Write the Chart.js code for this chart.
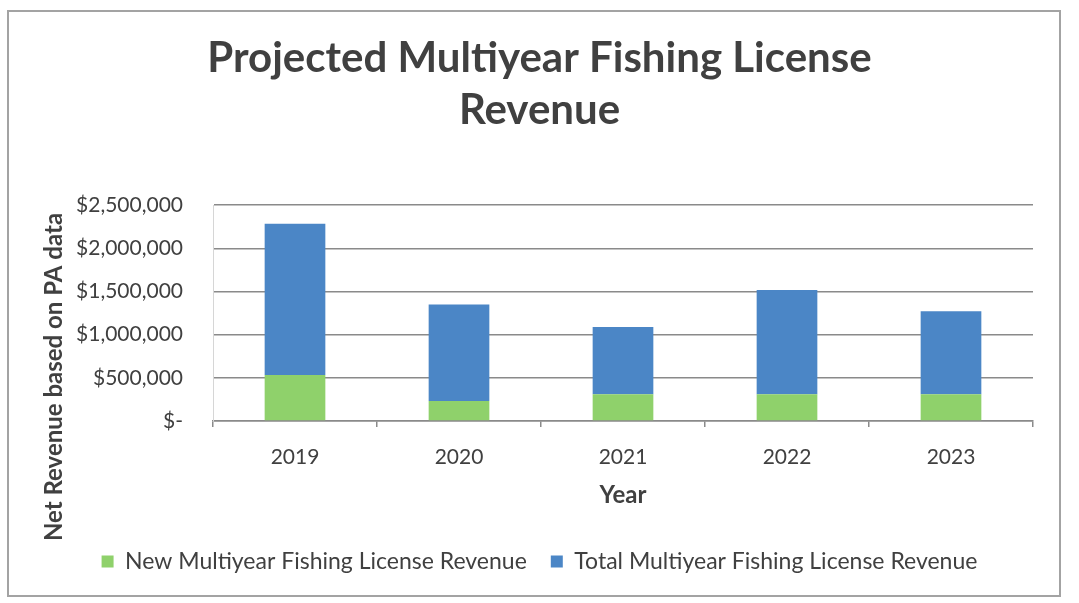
<!DOCTYPE html>
<html>
<head>
<meta charset="utf-8">
<script src="https://cdn.jsdelivr.net/npm/chart.js@4.4.1/dist/chart.umd.min.js"></script>
<style>
  html, body { margin: 0; padding: 0; background: #fff; }
  #wrap { position: relative; width: 1079px; height: 603px; }
  #frame { position: absolute; left: 7px; top: 10px; width: 1054px; height: 587px; border: 2px solid #a3a3a3; box-sizing: border-box; pointer-events: none; }
</style>
</head>
<body>
<div id="wrap">
  <canvas id="grafico" width="1079" height="603"></canvas>
  <div id="frame"></div>
</div>
<script>
// datos
const years = ["2019", "2020", "2021", "2022", "2023"];
const newRevenue = [533000, 233000, 311000, 311000, 311000];
const totalRevenue = [1751000, 1117000, 778000, 1206000, 961000];
const yTicks = [0, 500000, 1000000, 1500000, 2000000, 2500000];

const textColor = "#404040";
const fuente = "Lato, 'Open Sans', sans-serif";

// titulo del eje Y centrado como en el original
const tituloY = {
  id: "tituloY",
  afterDraw(chart) {
    const ctx = chart.ctx;
    ctx.save();
    ctx.translate(54, 377);
    ctx.rotate(-Math.PI / 2);
    ctx.fillStyle = textColor;
    ctx.font = "bold 24px " + fuente;
    ctx.textAlign = "center";
    ctx.textBaseline = "middle";
    ctx.fillText("Net Revenue based on PA data", 0, 0);
    ctx.restore();
  }
};

const ctx = document.getElementById("grafico").getContext("2d");

new Chart(ctx, {
  type: "bar",
  data: {
    labels: years,
    datasets: [
      {
        label: "New Multiyear Fishing License Revenue",
        data: newRevenue,
        backgroundColor: "#8fd16b",
        categoryPercentage: 1,
        barPercentage: 0.37
      },
      {
        label: "Total Multiyear Fishing License Revenue",
        data: totalRevenue,
        backgroundColor: "#4b86c6",
        categoryPercentage: 1,
        barPercentage: 0.37
      }
    ]
  },
  options: {
    responsive: false,
    animation: false,
    layout: { padding: { left: 46, right: 46, top: 32, bottom: 20 } },
    scales: {
      x: {
        stacked: true,
        grid: {
          offset: true,
          drawOnChartArea: false,
          drawTicks: true,
          tickLength: 6,
          color: "#8a8a8a",
          lineWidth: 1.5
        },
        border: { color: "#8a8a8a", width: 1.5 },
        ticks: { color: textColor, font: { family: fuente, size: 21 }, padding: 18 },
        title: {
          display: true,
          text: "Year",
          color: textColor,
          font: { family: fuente, size: 24, weight: "bold" },
          padding: { top: -7, bottom: 16 }
        }
      },
      y: {
        stacked: true,
        min: 0,
        max: 2500000,
        afterFit(scale) { scale.width = 167; },
        afterBuildTicks(scale) { scale.ticks = yTicks.map(v => ({ value: v })); },
        grid: { color: "#8a8a8a", lineWidth: 1.5, drawTicks: false },
        border: { display: true, color: "#d6d6d6", width: 1 },
        ticks: {
          color: textColor,
          font: { family: fuente, size: 21 },
          padding: 30,
          callback: v => v === 0 ? "$-" : "$" + v.toLocaleString("en-US")
        }
      }
    },
    plugins: {
      title: {
        display: true,
        text: ["Projected Multiyear Fishing License", "Revenue"],
        color: textColor,
        font: { family: fuente, size: 42, weight: "bold", lineHeight: 1.24 },
        padding: { top: 0, bottom: 69 }
      },
      legend: {
        position: "bottom",
        labels: {
          color: textColor,
          font: { family: fuente, size: 23 },
          boxWidth: 12,
          boxHeight: 12,
          padding: 24
        }
      },
      tooltip: { enabled: false }
    }
  },
  plugins: [tituloY]
});
</script>
</body>
</html>
